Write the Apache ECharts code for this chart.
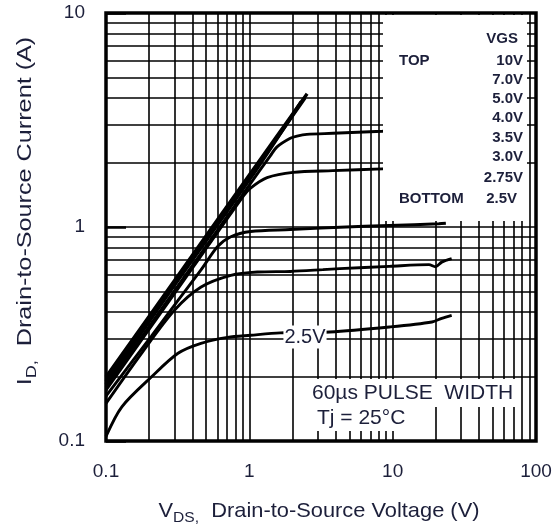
<!DOCTYPE html>
<html>
<head>
<meta charset="utf-8">
<script src="https://cdn.jsdelivr.net/npm/echarts@6/dist/echarts.min.js"></script>
<style>
html, body { margin: 0; padding: 0; background: #fff; }
#chart { width: 555px; height: 529px; }
</style>
</head>
<body>
<div id="chart"></div>
<script>
// Typical output characteristics: drain current vs drain-source voltage, one curve per VGS.
const vgsLabels = ['10V', '7.0V', '5.0V', '4.0V', '3.5V', '3.0V', '2.75V', '2.5V'];

const vds10V = [0.1, 0.3, 1.0, 2.53];
const id10V  = [0.199, 0.561, 1.75, 4.19];

const vds7V = [0.1, 0.3, 1.0, 2.45];
const id7V  = [0.190, 0.542, 1.70, 4.02];

const vds5V = [0.1, 0.3, 1.0, 2.30];
const id5V  = [0.184, 0.534, 1.66, 3.85];

const vds4V = [0.1, 0.3, 1.0, 1.4, 1.56, 1.93, 2.15, 2.52, 3.83, 8.47, 9.5];
const id4V  = [0.1785, 0.503, 1.57, 2.15, 2.37, 2.60, 2.66, 2.71, 2.74, 2.80, 2.81];

const vds3p5V = [0.1, 0.3, 0.913, 1.02, 1.33, 2.02, 3.83, 8.47, 9.5];
const id3p5V  = [0.173, 0.488, 1.40, 1.52, 1.70, 1.80, 1.834, 1.87, 1.875];

const vds3V = [0.1, 0.208, 0.318, 0.46, 0.601, 0.743, 1.02, 1.93, 4.28, 9.47, 21.0, 23.5];
const id3V  = [0.162, 0.31, 0.454, 0.63, 0.81, 0.90, 0.953, 0.973, 0.998, 1.016, 1.035, 1.041];

const vds2p75V = [0.1, 0.177, 0.300, 0.461, 0.743, 1.136, 1.93, 3.26, 4.28, 9.47, 17.9, 19.9, 22.0, 25.8];
const id2p75V  = [0.150, 0.257, 0.408, 0.524, 0.594, 0.616, 0.620, 0.632, 0.639, 0.655, 0.667, 0.652, 0.685, 0.711];

const vds2p5V = [0.1, 0.129, 0.208, 0.318, 0.46, 0.705, 1.02, 1.645, 3.65, 9.48, 18.8, 22.0, 25.8];
const id2p5V  = [0.105, 0.1445, 0.1995, 0.257, 0.286, 0.305, 0.312, 0.320, 0.323, 0.341, 0.360, 0.3745, 0.3867];

// Axis decades and the log-paper grid lines (major + 2..9 minors)
const xTickLabels = ['0.1', '1', '10', '100'];
const yTickLabels = ['0.1', '1', '10'];
const xGridValues = [0.2, 0.3, 0.4, 0.5, 0.6, 0.7, 0.8, 0.9, 1, 2, 3, 4, 5, 6, 7, 8, 9, 10, 20, 30, 40, 50, 60, 70, 80, 90];
const yGridValues = [0.2, 0.3, 0.4, 0.5, 0.6, 0.7, 0.8, 0.9, 1, 2, 3, 4, 5, 6, 7, 8, 9];

const curves = [
  [vds10V, id10V], [vds7V, id7V], [vds5V, id5V], [vds4V, id4V],
  [vds3p5V, id3p5V], [vds3V, id3V], [vds2p75V, id2p75V], [vds2p5V, id2p5V]
];

const ink = '#1c1f3a';
const font = '"Liberation Sans", Arial, sans-serif';

const chart = echarts.init(document.getElementById('chart'), null, { renderer: 'canvas' });

const curveSeries = curves.map(function (c, i) {
  return {
    name: vgsLabels[i],
    type: 'line',
    data: c[0].map(function (v, k) { return [v, c[1][k]]; }),
    showSymbol: false,
    smooth: 0.3,
    lineStyle: { color: '#000', width: i < 3 ? 3.4 : 2.9 },
    z: 3,
    silent: true,
    animation: false
  };
});

const gridSeries = {
  name: 'grid',
  type: 'line',
  data: [],
  z: 1,
  silent: true,
  animation: false,
  markLine: {
    silent: true,
    animation: false,
    symbol: ['none', 'none'],
    label: { show: false },
    lineStyle: { color: '#000', width: 1.6, type: 'solid' },
    emphasis: { disabled: true },
    data: xGridValues.map(function (v) { return { xAxis: v }; })
      .concat(yGridValues.map(function (v) { return { yAxis: v }; }))
  }
};

function decadeLabel(labels, offset) {
  return function (v) {
    const k = Math.round(Math.log10(v)) + offset;
    return labels[k] !== undefined ? labels[k] : '';
  };
}

const titleRich = {
  m: { fontSize: 21, fontFamily: font, color: ink, fill: ink, verticalAlign: 'top', lineHeight: 24 },
  s: { fontSize: 15, fontFamily: font, color: ink, fill: ink, verticalAlign: 'top', lineHeight: 24, padding: [9, 0, 0, 0] }
};

const legendText = function (text, x, y, align) {
  return {
    type: 'text', x: x, y: y, z: 20, silent: true,
    style: { text: text, font: 'bold 15px ' + font, fill: ink, align: align, verticalAlign: 'middle' }
  };
};

chart.setOption({
  animation: false,
  backgroundColor: '#fff',
  grid: { left: 106, right: 19, top: 13, bottom: 88, show: true, borderColor: '#000', borderWidth: 3.5, backgroundColor: 'transparent' },
  xAxis: {
    type: 'log', logBase: 10, min: 0.1, max: 100,
    axisLine: { show: false },
    axisTick: { show: false },
    splitLine: { show: false },
    minorTick: { show: false },
    axisLabel: { formatter: decadeLabel(xTickLabels, 1), fontSize: 19, fontFamily: font, color: ink, margin: 21 }
  },
  yAxis: {
    type: 'log', logBase: 10, min: 0.1, max: 10,
    axisLine: { show: false },
    axisTick: { show: true, inside: true, length: 20, lineStyle: { color: '#000', width: 2.5 } },
    splitLine: { show: false },
    minorTick: { show: false },
    axisLabel: { formatter: decadeLabel(yTickLabels, 1), fontSize: 19, fontFamily: font, color: ink, margin: 21 }
  },
  series: [gridSeries].concat(curveSeries),
  graphic: [
    // legend panel
    { type: 'rect', z: 10, silent: true, shape: { x: 383, y: 15, width: 144, height: 206 }, style: { fill: '#fff' } },
    legendText('VGS', 518, 39, 'right'),
    legendText('TOP', 399, 61, 'left'),
    legendText(vgsLabels[0], 523, 61, 'right'),
    legendText(vgsLabels[1], 523, 80, 'right'),
    legendText(vgsLabels[2], 523, 99, 'right'),
    legendText(vgsLabels[3], 523, 118, 'right'),
    legendText(vgsLabels[4], 523, 138, 'right'),
    legendText(vgsLabels[5], 523, 157, 'right'),
    legendText(vgsLabels[6], 523, 178, 'right'),
    legendText('BOTTOM', 399, 199, 'left'),
    legendText(vgsLabels[7], 517, 199, 'right'),
    // curve tag on the lowest trace
    { type: 'text', x: 305, y: 337, z: 20, silent: true,
      style: { text: '2.5V', font: '20px ' + font, fill: ink, align: 'center', verticalAlign: 'middle', backgroundColor: '#fff', padding: [2, 1, 1, 1] } },
    // test conditions
    { type: 'text', x: 309, y: 393, z: 20, silent: true,
      style: { text: '60\u00b5s PULSE  WIDTH', font: '21px ' + font, fill: ink, align: 'left', verticalAlign: 'middle', backgroundColor: '#fff', padding: [4, 4, 3, 3] } },
    { type: 'text', x: 314, y: 418, z: 20, silent: true,
      style: { text: 'Tj = 25\u00b0C', font: '21px ' + font, fill: ink, align: 'left', verticalAlign: 'middle', backgroundColor: '#fff', padding: [2, 4, 3, 3] } },
    // axis titles
    { type: 'text', x: 319, y: 513, z: 20, silent: true, scaleX: 1.04,
      style: { text: '{m|V}{s|DS,}{m|  Drain-to-Source Voltage (V)}', rich: titleRich, align: 'center', verticalAlign: 'middle' } },
    { type: 'text', x: 27, y: 211, z: 20, silent: true, rotation: Math.PI / 2, scaleX: 1.2,
      style: { text: '{m|I}{s|D,}{m|  Drain-to-Source Current (A)}', rich: titleRich, align: 'center', verticalAlign: 'middle' } }
  ]
});
</script>
</body>
</html>
